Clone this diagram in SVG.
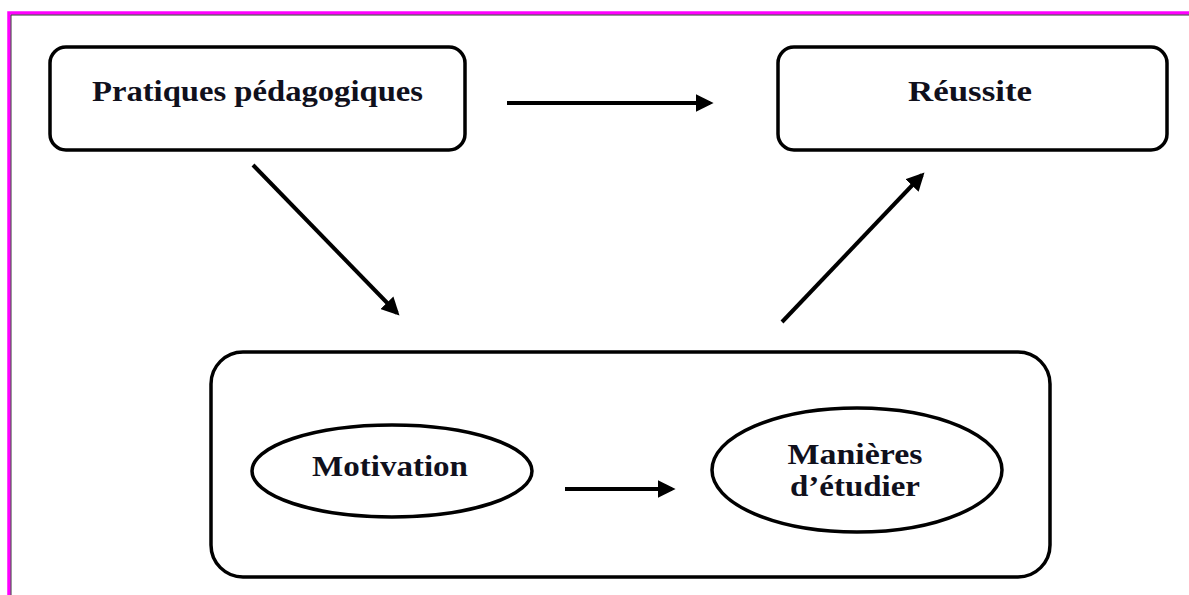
<svg xmlns="http://www.w3.org/2000/svg" width="1189" height="595" viewBox="0 0 1189 595">
<defs>
<style>
.box{fill:#fff;stroke:#000;stroke-width:3.5}
.ell{fill:#fff;stroke:#000;stroke-width:3.5}
.lbl{font-family:"Liberation Serif","Times New Roman",serif;font-weight:bold;font-size:29px;fill:#10101c;text-anchor:middle}
.conn{stroke:#000;stroke-width:4;fill:none;marker-end:url(#ah)}
</style>
<marker id="ah" viewBox="0 0 10 10" refX="8" refY="5" markerWidth="4.5" markerHeight="4.5" orient="auto" markerUnits="strokeWidth">
<path d="M0,0 L10,5 L0,10 z" fill="#000"/>
</marker>
</defs>
<rect x="0" y="0" width="1189" height="595" fill="#fff"/>
<g id="frame">
<path d="M9,595 V13 H1189" fill="none" stroke="#ff00ff" stroke-width="3.5"/>
<path d="M11,595 V15 H1189" fill="none" stroke="#333" stroke-width="1"/>
</g>
<g id="node-pratiques">
<rect class="box" x="50" y="47" width="415" height="103" rx="16"/>
<text class="lbl" x="257.5" y="101" textLength="331" lengthAdjust="spacingAndGlyphs">Pratiques pédagogiques</text>
</g>
<g id="node-reussite">
<rect class="box" x="778" y="47" width="389" height="103" rx="16"/>
<text class="lbl" x="970" y="101" textLength="124" lengthAdjust="spacingAndGlyphs">Réussite</text>
</g>
<g id="node-groupe">
<rect class="box" x="211" y="352" width="839" height="225" rx="32"/>
</g>
<g id="node-motivation">
<ellipse class="ell" cx="392" cy="471" rx="140" ry="46"/>
<text class="lbl" x="390" y="476" textLength="156" lengthAdjust="spacingAndGlyphs">Motivation</text>
</g>
<g id="node-manieres">
<ellipse class="ell" cx="857" cy="470" rx="145" ry="62"/>
<text class="lbl" x="855" y="464" textLength="135" lengthAdjust="spacingAndGlyphs">Manières</text>
<text class="lbl" x="855" y="496" textLength="130" lengthAdjust="spacingAndGlyphs">d’étudier</text>
</g>
<g id="connectors">
<line class="conn" x1="507" y1="103" x2="710" y2="103"/>
<line class="conn" x1="253" y1="165" x2="397" y2="313"/>
<line class="conn" x1="782" y1="322" x2="922" y2="175"/>
<line class="conn" x1="565" y1="489" x2="672" y2="489"/>
</g>
</svg>
